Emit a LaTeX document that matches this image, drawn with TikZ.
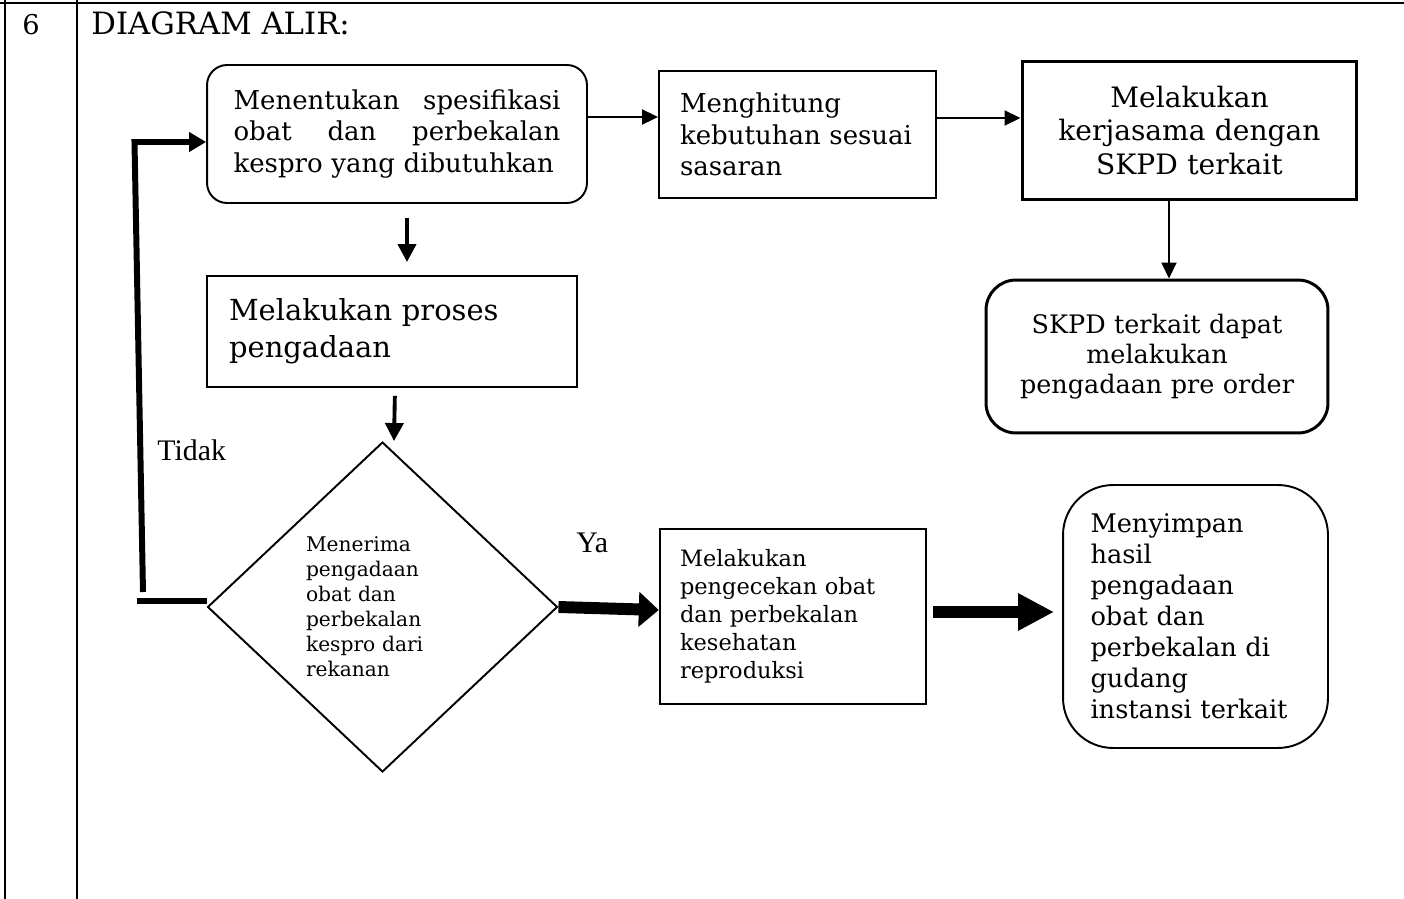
\documentclass[tikz,border=0pt]{standalone}
\usepackage{fontspec}
\setmainfont{DejaVu Serif}
\newfontfamily\labelfont{Liberation Serif}
\usetikzlibrary{shapes.geometric,arrows.meta,positioning,calc}
\newcommand{\fsz}[2]{\fontsize{#1}{#2}\selectfont}
\newcommand{\flowbox}[4]{%
  \node[#2, text width=#3, inner sep=0pt, #4] (#1) }

\begin{document}
\begin{tikzpicture}[x=0.02cm, y=-0.02cm,
  plainbox/.style={draw=black, line width=1.1pt, align=left, font=\fsz{14.8}{18}},
  roundbox/.style={plainbox, rounded corners=0.4cm},
  decision/.style={diamond, draw=black, line width=1.1pt, align=left, inner sep=0pt,
                   font=\fsz{11.5}{14.2}},
  tableline/.style={line width=1.5pt},
  thinarrow/.style={line width=1.1pt, -{Triangle[length=0.32cm, width=0.3cm]}},
  midarrow/.style={line width=2.2pt, -{Triangle[length=0.36cm, width=0.36cm]}},
  loopline/.style={line width=3.4pt},
  looparrow/.style={loopline, -{Triangle[length=0.34cm, width=0.38cm]}},
  fatarrow/.style={line width=6.8pt, -{Triangle[length=0.4cm, width=0.68cm]}},
  fatarrowlong/.style={line width=6.8pt, -{Triangle[length=0.72cm, width=0.7cm]}},
  answer/.style={font=\labelfont\fsz{17}{20}, inner sep=0pt, anchor=base west}]

\useasboundingbox (0,0) rectangle (1404,899);

\draw[tableline] (0,3) -- (1404,3);
\draw[tableline] (5,0) -- (5,899);
\draw[tableline] (77,0) -- (77,899);
\node[font=\fsz{15.5}{18}, inner sep=0pt, anchor=base west] (nomor) at (22,34) {6};
\node[font=\fsz{17.5}{20}, inner sep=0pt, anchor=base west] (judul) at (91,34) {DIAGRAM ALIR:};

\flowbox{spek}{roundbox}{6.54cm}{minimum width=7.6cm, minimum height=2.76cm}
  at (397,134)
  {Menentukan\hfill spesifikasi\\ obat\hfill dan\hfill perbekalan\\ kespro yang dibutuhkan};

\flowbox{hitung}{plainbox}{4.7cm}{minimum width=5.54cm, minimum height=2.54cm}
  at (797.5,134.5)
  {Menghitung\\ kebutuhan sesuai\\ sasaran};

\flowbox{kerjasama}{plainbox}{6cm}{minimum width=6.7cm, minimum height=2.78cm,
  align=center, line width=1.7pt, font=\fsz{16}{19.3}}
  at (1189.5,130.5)
  {Melakukan\\ kerjasama dengan\\ SKPD terkait};

\flowbox{preorder}{roundbox}{6.2cm}{minimum width=6.84cm, minimum height=3.06cm,
  align=center, line width=1.7pt, rounded corners=0.6cm, font=\fsz{14.5}{17}}
  at (1157,356.5)
  {SKPD terkait dapat\\ melakukan\\ pengadaan pre order};

\flowbox{proses}{plainbox}{6.52cm}{minimum width=7.4cm, minimum height=2.22cm,
  font=\fsz{16.5}{21}}
  at (392,331.5)
  {Melakukan proses\\ pengadaan};

\flowbox{terima}{decision}{3.06cm}{minimum width=7cm, minimum height=6.6cm}
  at (382.5,607)
  {Menerima\\ pengadaan\\ obat dan\\ perbekalan\\ kespro dari\\ rekanan};

\flowbox{cek}{plainbox}{4.52cm}{minimum width=5.32cm, minimum height=3.5cm,
  line width=1.4pt, font=\fsz{12.8}{15.9}}
  at (793,616.5)
  {Melakukan\\ pengecekan obat\\ dan perbekalan\\ kesehatan\\ reproduksi};

\flowbox{simpan}{roundbox}{4.2cm}{minimum width=5.3cm, minimum height=5.26cm,
  rounded corners=1cm, font=\fsz{14.6}{17.6}}
  at (1195.5,616.5)
  {Menyimpan\\ hasil\\ pengadaan\\ obat dan\\ perbekalan di\\ gudang\\ instansi terkait};

\node[answer] (tidak) at (157,460) {Tidak};
\node[answer] (ya) at (576,552) {Ya};

\draw[thinarrow] (spek.east |- 0,117) -- (hitung.west |- 0,117);
\draw[thinarrow] (hitung.east |- 0,118) -- (kerjasama.west |- 0,118);
\draw[thinarrow] (kerjasama.south -| 1169,0) -- (preorder.north -| 1169,0);
\draw[midarrow, shorten <=0.28cm, shorten >=0.26cm] (spek.south -| 407,0) -- (proses.north -| 407,0);
\draw[midarrow, shorten <=0.16cm] (proses.south -| 395,0) -- (terima.north -| 394,0);
\draw[fatarrow] (terima.east) -- (cek.west |- 0,610);
\draw[fatarrowlong, shorten <=0.12cm, shorten >=0.16cm] (cek.east |- 0,612) -- (simpan.west |- 0,612);

\coordinate (tidakA) at (137,601);
\coordinate (tidakB) at (143,592);
\coordinate (tidakC) at (134.5,142);
\draw[loopline] (terima.west |- tidakA) -- (tidakA);
\draw[looparrow] (tidakB) -- (tidakC) -- (spek.west |- tidakC);

\end{tikzpicture}
\end{document}
